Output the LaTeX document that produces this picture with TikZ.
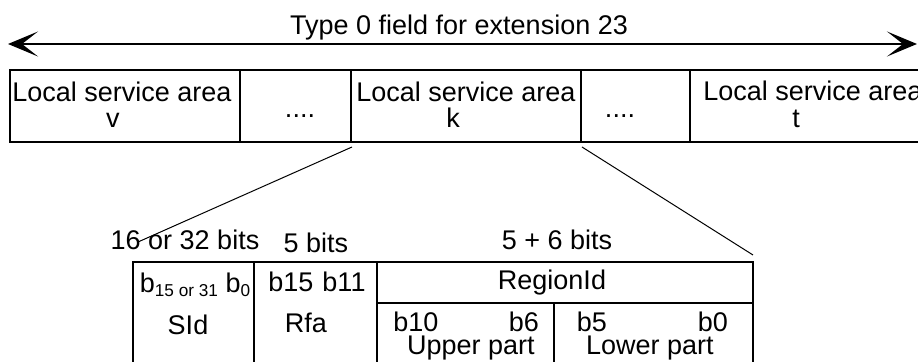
\documentclass[tikz,border=0pt]{standalone}
\usepackage{fontspec}
\setmainfont{Liberation Sans}
\usetikzlibrary{arrows.meta}
\tikzset{bighead/.tip={Stealth[length=15pt,width=12.5pt,inset=8pt]}}
\begin{document}
\begin{tikzpicture}[x=0.5pt,y=-0.5pt,
  lbl/.style={inner sep=0pt, anchor=base, font=\fontsize{13.5}{16}\selectfont},
  frame/.style={line width=1pt},
  thinline/.style={line width=0.5pt}]
\useasboundingbox (0,0) rectangle (918,362);
% double arrow
\coordinate (aL) at (8,44);
\coordinate (aR) at (917,44);
\draw[line width=1pt, bighead-bighead] (aL) -- (aR);
\node[lbl] (title) at (459,35) {Type 0 field for extension 23};
% top row
\draw[frame] (920,70) -- (10,70) -- (10,142) -- (920,142);
\foreach \x in {240,351,581,690} \draw[frame] (\x,70) -- (\x,142);
\node[lbl] (c1a) at (122,102) {Local service area};
\node[lbl] (c1b) at (113,128) {v};
\node[lbl] (d1) at (300,118) {....};
\node[lbl] (c3a) at (466,102) {Local service area};
\node[lbl] (c3b) at (453,128) {k};
\node[lbl] (d2) at (620,118) {....};
\node[lbl] (c5a) at (813,101) {Local service area};
\node[lbl] (c5b) at (796,128) {t};
% connectors
\coordinate (k1) at (352,147);
\coordinate (k2) at (582,147);
\coordinate (t1) at (138,242);
\coordinate (t2) at (753,255);
\draw[thinline] (k1) -- (t1);
\draw[thinline] (k2) -- (t2);
% lower table
\draw[frame] (133,364) -- (133,262) -- (753,262) -- (753,364);
\draw[frame] (254,262) -- (254,364);
\draw[frame] (377,262) -- (377,364);
\draw[frame] (377,303) -- (753,303);
\draw[frame] (554,303) -- (554,364);
\node[lbl] (bits1) at (185,250) {16 or 32 bits};
\node[lbl] (bits2) at (316,253) {5 bits};
\node[lbl] (bits3) at (557,250) {5 + 6 bits};
\node[lbl] (sidbits) at (195,293) {b\raisebox{-2pt}{\fontsize{8.6}{9}\selectfont 15 or 31} b\raisebox{-2pt}{\fontsize{8.6}{9}\selectfont 0}};
\node[lbl] (rfabits) at (317,292) {b15\hspace{4.5pt}b11};
\node[lbl] (region) at (552,290) {RegionId};
\node[lbl] (sid) at (188,335) {SId};
\node[lbl] (rfa) at (306,333) {Rfa};
\node[lbl] (b10) at (416,332) {b10};
\node[lbl] (b6) at (524,332) {b6};
\node[lbl] (upper) at (471,355) {Upper part};
\node[lbl] (b5) at (592,332) {b5};
\node[lbl] (b0) at (713,332) {b0};
\node[lbl] (lower) at (650,355) {Lower part};
\end{tikzpicture}
\end{document}
